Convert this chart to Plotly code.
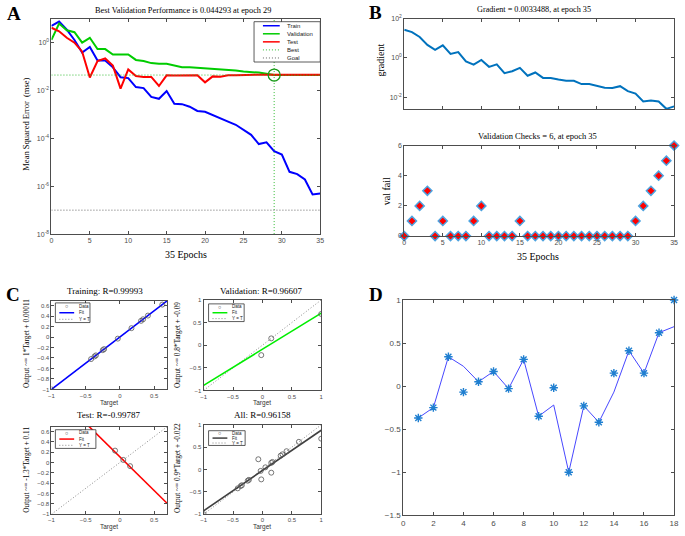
import plotly.graph_objects as go

# ---- data -------------------------------------------------------------
epochs = list(range(36))

train_mse = [5.0, 7.6, 3.5, 1.3, 0.39, 0.66, 0.18, 0.18, 0.093, 0.036, 0.033, 0.014,
             0.0126, 0.0054, 0.0045, 0.0095, 0.0028, 0.0027, 0.0021, 0.0014, 0.0013,
             9.3e-4, 6.9e-4, 5.0e-4, 3.7e-4, 2.3e-4, 1.4e-4, 5.8e-5, 6.8e-5, 2.9e-5,
             2.1e-5, 4.0e-6, 3.2e-6, 1.9e-6, 4.5e-7, 5.0e-7]
val_mse = [1.3, 6.3, 3.3, 2.75, 1.0, 1.6, 0.54, 0.54, 0.32, 0.32, 0.32, 0.19, 0.17,
           0.14, 0.13, 0.13, 0.11, 0.093, 0.093, 0.089, 0.085, 0.079, 0.078, 0.072,
           0.069, 0.063, 0.060, 0.056, 0.050, 0.044293, 0.0445, 0.0446, 0.0447,
           0.0448, 0.0449, 0.045]
test_mse = [4.2, 3.0, 1.6, 1.0, 0.42, 0.035, 0.17, 0.22, 0.11, 0.012, 0.076, 0.040,
            0.037, 0.037, 0.0155, 0.043, 0.042, 0.043, 0.045, 0.043, 0.022, 0.039,
            0.038, 0.043, 0.043, 0.045, 0.045, 0.046, 0.046, 0.046, 0.046, 0.046,
            0.046, 0.046, 0.046, 0.046]
best_epoch = 29
best_perf = 0.044293
goal = 1e-7

gradient = [27.5, 20.9, 11.7, 4.6, 2.6, 4.4, 1.6, 2.0, 0.66, 0.45, 0.79, 0.35, 0.47,
            0.166, 0.21, 0.31, 0.123, 0.18, 0.095, 0.095, 0.078, 0.069, 0.068, 0.046,
            0.046, 0.036, 0.030, 0.029, 0.036, 0.020, 0.015, 0.0059, 0.0066, 0.0059,
            0.0025, 0.0033488]
val_fail = [0, 1, 2, 3, 0, 1, 0, 0, 0, 1, 2, 0, 0, 0, 0, 1, 0, 0, 0, 0, 0, 0, 0, 0,
            0, 0, 0, 0, 0, 0, 1, 2, 3, 4, 5, 6]

samples = list(range(1, 19))
targets = [-0.37, -0.25, 0.34, -0.07, 0.05, 0.17, -0.03, 0.31, -0.35, -0.02, -1.0,
           -0.23, -0.42, 0.15, 0.41, 0.15, 0.62, 1.0]
outputs = [-0.37, -0.25, 0.34, 0.23, 0.05, 0.17, -0.03, 0.31, -0.35, -0.22, -1.0,
           -0.23, -0.42, -0.07, 0.41, 0.15, 0.62, 0.69]

train_idx = [1, 2, 3, 6, 7, 8, 9, 11, 12, 13, 15, 17]
valid_idx = [10, 16, 18]
test_idx = [4, 5, 14]
all_idx = samples

reg_names = ["Training", "Validation", "Test", "All"]
reg_r = ["0.99993", "0.96607", "-0.99787", "0.96158"]
fit_slope = [1, 0.8, -1.3, 0.9]
fit_icpt = [0.00011, -0.09, 0.11, -0.022]
fit_label = ["1", "0.8", "-1.3", "0.9"]
icpt_label = ["0.00011", "-0.09", "0.11", "-0.022"]

# ---- layout helpers ---------------------------------------------------
W, H = 685, 536
SERIF = "Liberation Serif"
SANS = "Liberation Sans"
AX = "#4d4d4d"
DOT = "1px,2px"


def px(x):
    return x / W


def py(y):
    return 1 - y / H


fig = go.Figure()
annotations = []
shapes = []


def axis(x0, x1, y_top, y_bot, n, **kw):
    base = dict(showline=True, linecolor=AX, linewidth=1, mirror="ticks",
                ticks="inside", ticklen=3, tickcolor=AX, showgrid=False,
                zeroline=False, tickfont=dict(family=SANS, size=7, color=AX))
    xa = dict(base, domain=[px(x0), px(x1)])
    ya = dict(base, domain=[py(y_bot), py(y_top)])
    xa.update(kw.get("x", {}))
    ya.update(kw.get("y", {}))
    return xa, ya


def text(x, y, s, size=9, family=SERIF, angle=0, bold=False, color="black", anchor="center"):
    if bold:
        s = "<b>%s</b>" % s
    annotations.append(dict(x=px(x), y=py(y), xref="paper", yref="paper", text=s,
                            showarrow=False, textangle=angle, xanchor=anchor,
                            yanchor="middle", font=dict(family=family, size=size, color=color)))


def legend(box, items, fs, sym=(4, 20), lab=23):
    x0, y0, x1, y1 = box
    shapes.append(dict(type="rect", xref="paper", yref="paper", x0=px(x0), x1=px(x1),
                       y0=py(y1), y1=py(y0), fillcolor="white",
                       line=dict(color="#333", width=0.8)))
    n = len(items)
    for i, (label, kind, color, dash) in enumerate(items):
        yc = y0 + (i + 0.5) * (y1 - y0) / n
        if kind == "marker":
            text(x0 + (sym[0] + sym[1]) / 2, yc, "○", size=fs + 1, family=SANS, color=color)
        else:
            shapes.append(dict(type="line", xref="paper", yref="paper",
                               x0=px(x0 + sym[0]), x1=px(x0 + sym[1]), y0=py(yc), y1=py(yc),
                               line=dict(color=color, width=1.5 if dash == "solid" else 1, dash=dash)))
        text(x0 + lab, yc, label, size=fs, family=SANS, color="#222", anchor="left")


def sup(n):
    return "10<sup>%d</sup>" % n


axes = {}

# ---- A: performance ----------------------------------------------------
axes[1] = axis(49, 321, 15, 234, "",
               x=dict(range=[0, 35], dtick=5, tick0=0),
               y=dict(type="log", range=[-8, 1],
                      tickvals=[1e-8, 1e-6, 1e-4, 1e-2, 1],
                      ticktext=[sup(-8), sup(-6), sup(-4), sup(-2), sup(0)]))
fig.add_trace(go.Scatter(x=epochs, y=train_mse, mode="lines", line=dict(color="#0000ff", width=2), xaxis="x", yaxis="y"))
fig.add_trace(go.Scatter(x=epochs, y=val_mse, mode="lines", line=dict(color="#00cc00", width=2), xaxis="x", yaxis="y"))
fig.add_trace(go.Scatter(x=epochs, y=test_mse, mode="lines", line=dict(color="#ff0000", width=2), xaxis="x", yaxis="y"))
fig.add_trace(go.Scatter(x=[epochs[0], epochs[-1]], y=[best_perf, best_perf], mode="lines",
                         line=dict(color="#33bb33", width=1, dash=DOT), xaxis="x", yaxis="y"))
fig.add_trace(go.Scatter(x=[best_epoch, best_epoch], y=[1e-8, 10], mode="lines",
                         line=dict(color="#33bb33", width=1, dash=DOT), xaxis="x", yaxis="y"))
fig.add_trace(go.Scatter(x=[epochs[0], epochs[-1]], y=[goal, goal], mode="lines",
                         line=dict(color="#666", width=1, dash=DOT), xaxis="x", yaxis="y"))
fig.add_trace(go.Scatter(x=[best_epoch], y=[best_perf], mode="markers",
                         marker=dict(symbol="circle-open", size=12, color="#1a9a1a", line=dict(width=1.3)),
                         xaxis="x", yaxis="y"))
text(182, 7, "Best Validation Performance is %s at epoch %d" % (best_perf, best_epoch), size=8.3)
text(23, 122, "Mean Squared Error  (mse)", size=8.5, angle=-90)
text(185, 255, "%d Epochs" % epochs[-1], size=10)
legend((254, 18, 321, 59),
       [("Train", "line", "#0000ff", "solid"), ("Validation", "line", "#00cc00", "solid"),
        ("Test", "line", "#ff0000", "solid"), ("Best", "line", "#33bb33", DOT),
        ("Goal", "line", "#666", DOT)], 6, sym=(9, 26), lab=31)

# ---- B: training state --------------------------------------------------
axes[2] = axis(406, 679, 15, 107, 2,
               x=dict(range=[0, 35], dtick=5, tick0=0, showticklabels=False),
               y=dict(type="log", range=[-2.62, 2], tickvals=[1e-2, 1, 1e2],
                      ticktext=[sup(-2), sup(0), sup(2)]))
fig.add_trace(go.Scatter(x=epochs, y=gradient, mode="lines", line=dict(color="#0072bd", width=2),
                         xaxis="x2", yaxis="y2"))
text(537, 6, "Gradient = %s, at epoch %d" % (gradient[-1], epochs[-1]), size=8.2)
text(382, 57, "gradient", size=10, angle=-90)

axes[3] = axis(406, 679, 144, 236, 3,
               x=dict(range=[0, 35], dtick=5, tick0=0),
               y=dict(range=[0, 6], dtick=2, tick0=0))
fig.add_trace(go.Scatter(x=epochs, y=val_fail, mode="markers", cliponaxis=False,
                         marker=dict(symbol="diamond", size=7, color="#ff0000",
                                     line=dict(color="#4da3e0", width=1.5)),
                         xaxis="x3", yaxis="y3"))
text(541, 134, "Validation Checks = %d, at epoch %d" % (val_fail[-1], epochs[-1]), size=8.5)
text(388, 190, "val fail", size=10, angle=-90)
text(541, 257, "%d Epochs" % epochs[-1], size=10)

# ---- C: regression --------------------------------------------------------
reg_boxes = [(49, 166, 302, 392), (203, 322, 301, 393), (49, 166, 430, 519), (203, 322, 428, 519)]
reg_ranges = [[-1, 0.69], [-1, 1], [-1, 0.69], [-1, 1]]
reg_ydt = [0.2, 0.5, 0.2, 0.5]
reg_sets = [train_idx, valid_idx, test_idx, all_idx]
reg_colors = ["#0000ff", "#00ee00", "#ff0000", "#404040"]
reg_title_pos = [(103, 292), (262, 292), (107, 418), (263, 418)]
reg_ylab_pos = [(23, 345), (176, 347), (23, 474), (176, 472)]
reg_xlab_y = [406, 406, 532, 532]
reg_legends = [(53, 304, 88, 324), (208, 305, 244, 323), (53, 433, 94, 452), (208, 434, 245, 449)]

for k in range(4):
    n = k + 4
    x0, x1, yt, yb = reg_boxes[k]
    rng = reg_ranges[k]
    axes[n] = axis(x0, x1, yt, yb, n,
                   x=dict(range=rng, dtick=0.5, tick0=-1, tickfont=dict(family=SANS, size=6, color=AX)),
                   y=dict(range=rng, dtick=reg_ydt[k], tick0=-1, tickfont=dict(family=SANS, size=6, color=AX)))
    xs = [targets[i - 1] for i in reg_sets[k]]
    ys = [outputs[i - 1] for i in reg_sets[k]]
    fit_y = [fit_slope[k] * v + fit_icpt[k] for v in rng]
    fig.add_trace(go.Scatter(x=rng, y=rng, mode="lines", line=dict(color="#888", width=1, dash=DOT),
                             xaxis="x%d" % n, yaxis="y%d" % n))
    fig.add_trace(go.Scatter(x=rng, y=fit_y, mode="lines", line=dict(color=reg_colors[k], width=1.6),
                             xaxis="x%d" % n, yaxis="y%d" % n))
    fig.add_trace(go.Scatter(x=xs, y=ys, mode="markers",
                             marker=dict(symbol="circle-open", size=5, color="#555", line=dict(width=0.8)),
                             xaxis="x%d" % n, yaxis="y%d" % n))
    text(*reg_title_pos[k], "%s: R=%s" % (reg_names[k], reg_r[k]), size=9)
    text(*reg_ylab_pos[k], "Output ~= %s*Target + %s" % (fit_label[k], icpt_label[k]), size=7.3, angle=-90)
    text((x0 + x1) / 2, reg_xlab_y[k], "Target", size=6.5, family=SANS, color="#333")
    legend(reg_legends[k],
           [("Data", "marker", "#333", None), ("Fit", "line", reg_colors[k], "solid"),
            ("Y = T", "line", "#888", DOT)], 4.5, sym=(4, 19), lab=22)

# ---- D: targets vs outputs ----------------------------------------------
axes[8] = axis(405, 679, 301, 520, 8,
               x=dict(range=[0, 18], dtick=2, tick0=0, tickfont=dict(family=SANS, size=8, color=AX)),
               y=dict(range=[-1.5, 1], dtick=0.5, tick0=-1.5, tickfont=dict(family=SANS, size=8, color=AX)))
fig.add_trace(go.Scatter(x=samples, y=outputs, mode="lines", line=dict(color="#4747ff", width=1),
                         xaxis="x8", yaxis="y8"))
fig.add_trace(go.Scatter(x=samples, y=targets, mode="markers", cliponaxis=False,
                         marker=dict(symbol="asterisk-open", size=7, color="#1f7fd0", line=dict(width=1.4, color="#1f7fd0")),
                         xaxis="x8", yaxis="y8"))

# ---- panel letters ----------------------------------------------------------
for letter, (lx, ly) in zip("ABCD", [(11, 10), (377, 9), (10, 295), (377, 295)]):
    text(lx, ly, letter, size=19, bold=True)

layout = dict(width=W, height=H, margin=dict(l=0, r=0, t=0, b=0), showlegend=False,
              plot_bgcolor="white", paper_bgcolor="white",
              annotations=annotations, shapes=shapes)
for n, (xa, ya) in axes.items():
    s = "" if n == 1 else str(n)
    xa["anchor"] = "y" + s
    ya["anchor"] = "x" + s
    layout["xaxis" + s] = xa
    layout["yaxis" + s] = ya
fig.update_layout(**layout)

fig.write_html("out.html", config={"displayModeBar": False},
               post_script="document.body.style.margin='0';")
